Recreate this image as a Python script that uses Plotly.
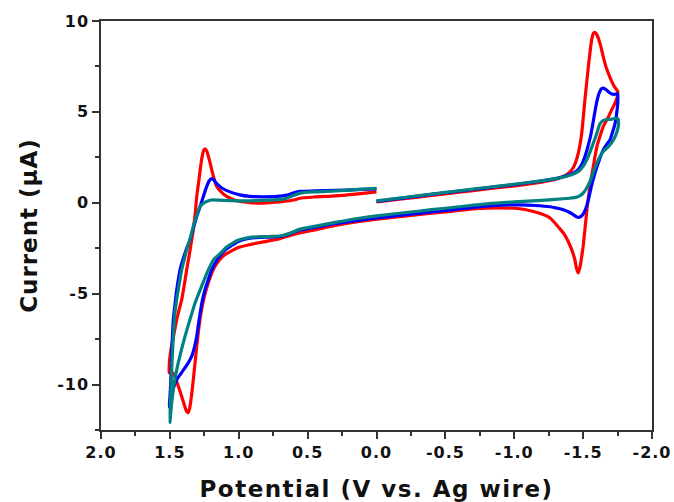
import plotly.graph_objects as go

# Cyclic voltammograms: potential (V vs. Ag wire) and current (uA), in scan order.
# Each scan starts at 0.0 V, runs negative to -1.75 V, back to +1.5 V, then returns to 0.0 V.

red_v = [0.00, -0.20, -0.40, -0.60, -0.80, -1.00, -1.15, -1.28, -1.35, -1.40, -1.43, -1.455,
         -1.475, -1.49, -1.513, -1.538, -1.562, -1.575, -1.585, -1.60, -1.625, -1.646, -1.665,
         -1.683, -1.70, -1.72, -1.74, -1.75,
         -1.748, -1.73, -1.707, -1.675, -1.646, -1.62, -1.60, -1.585, -1.574, -1.56, -1.55,
         -1.53, -1.513, -1.50, -1.49, -1.478, -1.465, -1.452, -1.44, -1.417, -1.39, -1.36,
         -1.33, -1.26, -1.20, -1.14, -1.04, -0.90, -0.70, -0.50, -0.30, -0.10, 0.10, 0.30,
         0.45, 0.55, 0.62, 0.70, 0.80, 0.92, 1.00, 1.06, 1.10, 1.14, 1.18, 1.21, 1.235,
         1.257, 1.275, 1.29, 1.305, 1.32, 1.335, 1.348, 1.358, 1.368, 1.38, 1.40, 1.425,
         1.45, 1.47, 1.49, 1.505,
         1.505, 1.50, 1.49, 1.475, 1.46, 1.45, 1.43, 1.414, 1.395, 1.378, 1.36, 1.345, 1.33,
         1.315, 1.305, 1.29, 1.28, 1.268, 1.255, 1.245, 1.232, 1.22, 1.208, 1.196, 1.18,
         1.16, 1.12, 1.087, 1.04, 0.99, 0.90, 0.846, 0.76, 0.677, 0.60, 0.555, 0.45, 0.30,
         0.15, 0.00]
red_i = [0.05, 0.22, 0.40, 0.58, 0.76, 0.93, 1.08, 1.25, 1.42, 1.65, 1.95, 2.45,
         3.10, 3.85, 5.66, 7.49, 8.96, 9.33, 9.38, 9.25, 8.70, 8.04, 7.50,
         7.13, 6.80, 6.48, 6.25, 6.15,
         5.84, 5.45, 5.11, 4.60, 4.19, 3.60, 3.09, 2.50, 1.99, 1.40, 0.90,
         -0.20, -1.48, -2.40, -2.95, -3.50, -3.86, -3.60, -3.13, -2.58, -2.10, -1.70,
         -1.42, -0.84, -0.62, -0.48, -0.33, -0.28, -0.33, -0.50, -0.65, -0.82, -1.00, -1.25,
         -1.50, -1.65, -1.78, -1.97, -2.12, -2.30, -2.45, -2.68, -2.85, -3.15, -3.60, -4.15, -4.75,
         -5.40, -6.10, -6.90, -7.90, -9.00, -10.10, -10.90, -11.35, -11.55, -11.45, -11.00, -10.40,
         -9.85, -9.45, -9.30, -9.35,
         -9.05, -8.50, -8.00, -7.40, -6.80, -6.43, -5.80, -5.33, -4.50, -3.68, -2.90, -2.20, -1.48,
         -0.50, 0.35, 1.20, 1.81, 2.45, 2.88, 2.97, 2.85, 2.54, 2.20, 1.81, 1.35,
         0.90, 0.55, 0.35, 0.18, 0.07, 0.00, -0.02, 0.02, 0.07, 0.15, 0.25, 0.32, 0.38,
         0.48, 0.60]

blue_v = [0.00, -0.20, -0.40, -0.60, -0.80, -1.00, -1.15, -1.28, -1.36, -1.42, -1.46, -1.49,
          -1.513, -1.535, -1.555, -1.574, -1.59, -1.605, -1.62, -1.635, -1.65, -1.67, -1.69,
          -1.71, -1.73, -1.75,
          -1.752, -1.748, -1.73, -1.71, -1.695, -1.67, -1.646, -1.615, -1.586, -1.56, -1.538,
          -1.52, -1.50, -1.483, -1.465, -1.45, -1.43, -1.40, -1.356, -1.30, -1.26, -1.15,
          -1.04, -0.90, -0.70, -0.50, -0.30, -0.10, 0.10, 0.30, 0.45, 0.555, 0.62, 0.68,
          0.75, 0.85, 0.92, 1.00, 1.04, 1.09, 1.136, 1.17, 1.196, 1.22, 1.245, 1.265, 1.28,
          1.293, 1.305, 1.322, 1.342, 1.37, 1.40, 1.425, 1.45, 1.47, 1.487, 1.497, 1.504,
          1.498, 1.494, 1.49, 1.487, 1.481, 1.475, 1.463, 1.45, 1.438, 1.426, 1.40, 1.378,
          1.354, 1.33, 1.305, 1.28, 1.257, 1.235, 1.215, 1.196, 1.18, 1.16, 1.12, 1.064,
          1.00, 0.92, 0.82, 0.725, 0.65, 0.60, 0.555, 0.45, 0.30, 0.15, 0.00]
blue_i = [0.08, 0.27, 0.46, 0.64, 0.82, 1.00, 1.15, 1.30, 1.45, 1.60, 1.80, 2.10,
          2.54, 3.10, 3.70, 4.50, 5.20, 5.75, 6.10, 6.28, 6.30, 6.20, 6.07,
          5.98, 5.97, 6.00,
          5.60, 5.20, 4.30, 3.80, 3.46, 3.20, 2.91, 2.30, 1.63, 0.90, 0.16,
          -0.30, -0.62, -0.76, -0.80, -0.76, -0.66, -0.52, -0.38, -0.28, -0.22, -0.15,
          -0.12, -0.13, -0.25, -0.42, -0.58, -0.75, -0.93, -1.15, -1.35, -1.50, -1.68, -1.83,
          -1.88, -1.90, -1.95, -2.12, -2.30, -2.55, -2.90, -3.30, -3.68, -4.20, -4.78, -5.40, -6.06,
          -6.70, -7.35, -7.95, -8.45, -8.85, -9.18, -9.45, -9.73, -10.10, -10.64, -11.00, -11.25,
          -10.50, -9.90, -9.10, -8.26, -7.30, -6.43, -5.60, -4.78, -4.20, -3.68, -3.00, -2.50,
          -2.03, -1.40, -0.75, -0.20, 0.35, 0.85, 1.20, 1.33, 1.25, 1.05, 0.80, 0.60,
          0.45, 0.35, 0.33, 0.35, 0.42, 0.55, 0.63, 0.65, 0.68, 0.72, 0.76]

teal_v = [0.00, -0.20, -0.40, -0.60, -0.80, -1.00, -1.15, -1.28, -1.36, -1.42, -1.47, -1.50,
          -1.526, -1.55, -1.575, -1.60, -1.62, -1.64, -1.67, -1.71, -1.75,
          -1.757, -1.745, -1.72, -1.685, -1.646, -1.62, -1.60, -1.575, -1.55, -1.525, -1.50,
          -1.475, -1.453, -1.40, -1.356, -1.20, -1.00, -0.80, -0.60, -0.40, -0.20, 0.00,
          0.15, 0.30, 0.45, 0.555, 0.62, 0.68, 0.75, 0.85, 0.92, 1.00, 1.04, 1.09, 1.136,
          1.18, 1.22, 1.27, 1.317, 1.355, 1.39, 1.42, 1.45, 1.47, 1.487, 1.50,
          1.497, 1.494, 1.487, 1.475, 1.463, 1.45, 1.439, 1.414, 1.395, 1.378, 1.35, 1.33,
          1.305, 1.28, 1.255, 1.233, 1.21, 1.185, 1.11, 1.00, 0.92, 0.80, 0.677, 0.62, 0.555,
          0.45, 0.30, 0.15, 0.00]
teal_i = [0.10, 0.29, 0.48, 0.66, 0.84, 1.02, 1.16, 1.30, 1.42, 1.55, 1.75, 2.00,
          2.36, 2.80, 3.30, 3.83, 4.30, 4.50, 4.58, 4.60, 4.65,
          4.30, 3.90, 3.46, 3.10, 2.82, 2.50, 2.18, 1.70, 1.17, 0.80, 0.53,
          0.38, 0.31, 0.25, 0.22, 0.13, 0.05, -0.06, -0.22, -0.38, -0.55, -0.72,
          -0.88, -1.08, -1.30, -1.45, -1.65, -1.80, -1.85, -1.87, -1.90, -2.05, -2.20, -2.45, -2.80,
          -3.10, -3.68, -4.60, -5.51, -6.45, -7.35, -8.20, -9.18, -10.00, -11.00, -12.10,
          -11.20, -10.60, -9.18, -7.35, -6.06, -5.30, -4.78, -3.68, -3.10, -2.58, -1.90, -1.30,
          -0.70, -0.20, -0.02, 0.07, 0.14, 0.16, 0.13, 0.11, 0.11, 0.14, 0.20, 0.35, 0.53,
          0.60, 0.65, 0.72, 0.80]

x_ticks = [2.0, 1.5, 1.0, 0.5, 0.0, -0.5, -1.0, -1.5, -2.0]
x_labels = ["2.0", "1.5", "1.0", "0.5", "0.0", "-0.5", "-1.0", "-1.5", "-2.0"]
y_ticks = [-10, -5, 0, 5, 10]
y_labels = ["-10", "-5", "0", "5", "10"]

series = [
    ("red", red_v, red_i, "#ff0000"),
    ("blue", blue_v, blue_i, "#0000ff"),
    ("teal", teal_v, teal_i, "#008080"),
]

fig = go.Figure()
for name, v, i, color in series:
    fig.add_trace(go.Scatter(
        x=v, y=i, mode="lines", name=name,
        line=dict(color=color, width=3.2, shape="spline", smoothing=0.6),
        showlegend=False,
    ))

axis_color = "#333333"
tick_font = dict(family="DejaVu Sans", size=16, color="#111111", weight="bold")
title_font = dict(family="DejaVu Sans", size=23, color="#111111", weight="bold")

fig.update_xaxes(
    range=[2.0, -2.0],
    tickmode="array", tickvals=x_ticks, ticktext=x_labels,
    ticks="outside", ticklen=7, tickwidth=1.5, tickcolor=axis_color,
    minor=dict(dtick=0.25, tick0=0, ticks="outside", ticklen=4, tickwidth=1.5, tickcolor=axis_color),
    showline=True, linecolor=axis_color, linewidth=1.5, mirror=True,
    showgrid=False, zeroline=False, automargin=False,
    tickfont=tick_font,
    title=dict(text="Potential (V vs. Ag wire)", font=title_font, standoff=20),
)
fig.update_yaxes(
    range=[-12.5, 10],
    tickmode="array", tickvals=y_ticks, ticktext=y_labels,
    ticks="outside", ticklen=7, tickwidth=1.5, tickcolor=axis_color,
    minor=dict(dtick=2.5, tick0=0, ticks="outside", ticklen=4, tickwidth=1.5, tickcolor=axis_color),
    showline=True, linecolor=axis_color, linewidth=1.5, mirror=True,
    showgrid=False, zeroline=False, automargin=False,
    tickfont=tick_font,
    title=dict(text="Current (μA)", font=title_font, standoff=16),
)

fig.update_layout(
    width=674, height=502, autosize=False,
    margin=dict(l=101, r=22, t=21, b=72),
    paper_bgcolor="white", plot_bgcolor="white",
)

# Widen the tracking of the axis text a little.
spacing_js = (
    "document.querySelectorAll('.xtitle').forEach(function(e){e.style.letterSpacing='1.5px';});"
    "document.querySelectorAll('.ytitle').forEach(function(e){e.style.letterSpacing='1px';});"
    "document.querySelectorAll('.xtick text, .ytick text').forEach(function(e){e.style.letterSpacing='1px';});"
)

fig.write_html("out.html", post_script=spacing_js)
